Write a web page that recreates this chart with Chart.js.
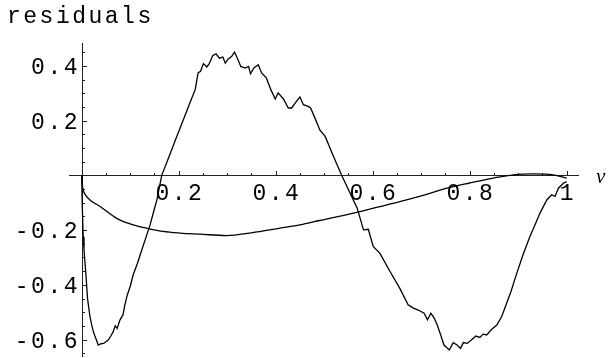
<!DOCTYPE html>
<html>
<head>
<meta charset="utf-8">
<script src="https://cdn.jsdelivr.net/npm/chart.js@4"></script>
<style>
  body { margin: 0; background: #fff; }
  canvas { display: block; }
</style>
</head>
<body>
<canvas id="myChart" width="608" height="358"></canvas>
<script>
let x_ticks = [0.2, 0.4, 0.6, 0.8, 1]
let x_tick_labels = ['0.2', '0.4', '0.6', '0.8', '1']
let y_ticks = [0.4, 0.2, -0.2, -0.4, -0.6]
let y_tick_labels = ['0.4', '0.2', '-0.2', '-0.4', '-0.6']
let y_label = 'residuals'
let x_label = 'ν'

// jagged residual curve
let rough_x = [0, 0.001, 0.003, 0.0047, 0.009, 0.012, 0.017, 0.021, 0.025, 0.030, 0.034, 0.039, 0.045, 0.050, 0.055,
    0.060, 0.065, 0.069, 0.073, 0.079, 0.085, 0.089, 0.094, 0.100, 0.106, 0.115, 0.124, 0.133, 0.141, 0.148, 0.155,
    0.165, 0.180, 0.195, 0.210, 0.223, 0.234, 0.240, 0.245, 0.251, 0.258, 0.263, 0.270, 0.277, 0.284, 0.291, 0.296,
    0.302, 0.309, 0.315, 0.321, 0.328, 0.337, 0.344, 0.348, 0.355, 0.364, 0.371, 0.381, 0.390, 0.399, 0.405, 0.416,
    0.426, 0.433, 0.440, 0.450, 0.457, 0.467, 0.472, 0.481, 0.491, 0.502, 0.519, 0.536, 0.552, 0.568, 0.581, 0.591,
    0.601, 0.615, 0.636, 0.656, 0.673, 0.684, 0.694, 0.706, 0.713, 0.720, 0.726, 0.732, 0.739, 0.747, 0.758, 0.766,
    0.774, 0.781, 0.787, 0.795, 0.804, 0.813, 0.821, 0.828, 0.835, 0.845, 0.856, 0.866, 0.875, 0.885, 0.897, 0.910,
    0.924, 0.935, 0.945, 0.959, 0.969, 0.976, 0.983, 0.993, 1.0]
let rough_y = [0, -0.10, -0.224, -0.272, -0.37, -0.45, -0.516, -0.55, -0.577, -0.60, -0.620, -0.616, -0.614, -0.608, -0.601,
    -0.587, -0.571, -0.550, -0.559, -0.528, -0.510, -0.473, -0.437, -0.406, -0.364, -0.321, -0.272, -0.224, -0.181, -0.135, -0.090,
    0, 0.068, 0.137, 0.205, 0.264, 0.313, 0.374, 0.380, 0.408, 0.396, 0.408, 0.437, 0.444, 0.428, 0.432, 0.410,
    0.425, 0.434, 0.450, 0.428, 0.398, 0.392, 0.398, 0.371, 0.392, 0.404, 0.374, 0.355, 0.313, 0.279, 0.301, 0.279,
    0.246, 0.246, 0.264, 0.286, 0.258, 0.252, 0.246, 0.209, 0.166, 0.142, 0.070, 0, -0.060, -0.120, -0.199, -0.197,
    -0.260, -0.285, -0.352, -0.413, -0.473, -0.485, -0.492, -0.504, -0.528, -0.504, -0.519, -0.541, -0.577, -0.620, -0.638, -0.611,
    -0.620, -0.632, -0.611, -0.614, -0.601, -0.587, -0.592, -0.580, -0.583, -0.563, -0.547, -0.516, -0.473, -0.425, -0.358, -0.290,
    -0.224, -0.180, -0.138, -0.090, -0.071, -0.077, -0.047, -0.029, -0.023]

// smooth residual curve
let smooth_x = [0, 0.001, 0.003, 0.008, 0.017, 0.038, 0.072, 0.106, 0.134, 0.168, 0.203, 0.244, 0.299, 0.35, 0.409,
    0.45, 0.491, 0.56, 0.615, 0.656, 0.7, 0.753, 0.8, 0.849, 0.89, 0.931, 0.972, 1.0]
let smooth_y = [0, -0.03, -0.053, -0.072, -0.09, -0.114, -0.157, -0.181, -0.193, -0.205, -0.211, -0.215, -0.220, -0.210, -0.193,
    -0.181, -0.165, -0.138, -0.114, -0.096, -0.075, -0.047, -0.028, -0.010, 0.002, 0.005, 0.002, -0.010]

let to_points = (xs, ys) => xs.map((v, i) => ({x: v, y: ys[i]}))

let mono = '"Liberation Mono", "DejaVu Sans Mono", monospace'
let spacing = 2.5

// draws the Mathematica-style axes through the origin
const axes_plugin = {
    id: 'originAxes',
    beforeDatasetsDraw: (chart) => {
        const {ctx, chartArea, scales} = chart
        let sx = scales.x, sy = scales.y
        let x0 = Math.round(sx.getPixelForValue(0)) + 0.5
        let y0 = Math.round(sy.getPixelForValue(0)) + 0.5
        ctx.save()
        ctx.strokeStyle = '#222'
        ctx.lineWidth = 1
        ctx.beginPath()
        ctx.moveTo(chartArea.left, y0)
        ctx.lineTo(chartArea.right, y0)
        ctx.moveTo(x0, chartArea.top)
        ctx.lineTo(x0, chartArea.bottom)
        // x ticks every 0.05, longer at 0.2
        for (let i = 1; i <= 20; i++) {
            let v = i * 0.05
            let len = (i % 4 === 0) ? 4.5 : 2.5
            let px = Math.round(sx.getPixelForValue(v)) + 0.5
            ctx.moveTo(px, y0)
            ctx.lineTo(px, y0 - len)
        }
        // y ticks every 0.05
        for (let i = -13; i <= 9; i++) {
            if (i === 0) continue
            let v = i * 0.05
            let len = (i % 4 === 0) ? 4.5 : 2.5
            let py = Math.round(sy.getPixelForValue(v)) + 0.5
            if (py < chartArea.top || py > chartArea.bottom) continue
            ctx.moveTo(x0, py)
            ctx.lineTo(x0 + len, py)
        }
        ctx.stroke()

        ctx.fillStyle = '#000'
        ctx.font = '23px ' + mono
        ctx.letterSpacing = spacing + 'px'
        ctx.textBaseline = 'alphabetic'
        ctx.textAlign = 'left'
        x_ticks.forEach((v, i) => {
            let w = ctx.measureText(x_tick_labels[i]).width - spacing
            ctx.fillText(x_tick_labels[i], sx.getPixelForValue(v) - w / 2, y0 + 24)
        })
        y_ticks.forEach((v, i) => {
            let w = ctx.measureText(y_tick_labels[i]).width - spacing
            ctx.fillText(y_tick_labels[i], x0 - 5 - w, sy.getPixelForValue(v) + 8)
        })
        ctx.fillText(y_label, 7, 23)
        ctx.letterSpacing = '0px'
        ctx.font = 'italic 21px "Liberation Serif", serif'
        ctx.fillText(x_label, 596, y0 + 7)
        ctx.restore()
    }
}

const ctx = document.getElementById('myChart')

new Chart(ctx, {
    type: 'scatter',
    data: {
        datasets: [
            {
                data: to_points(rough_x, rough_y),
                showLine: true,
                borderColor: '#000',
                borderWidth: 1.3,
                pointRadius: 0,
                tension: 0
            },
            {
                data: to_points(smooth_x, smooth_y),
                showLine: true,
                borderColor: '#000',
                borderWidth: 1.3,
                pointRadius: 0,
                cubicInterpolationMode: 'monotone'
            }
        ]
    },
    options: {
        responsive: false,
        animation: false,
        layout: {
            padding: {left: 69, right: 29, top: 43, bottom: 1}
        },
        scales: {
            x: {type: 'linear', min: -0.0262, max: 1.0254, display: false},
            y: {type: 'linear', min: -0.6636, max: 0.4834, display: false}
        },
        plugins: {
            legend: {display: false},
            tooltip: {enabled: false}
        }
    },
    plugins: [axes_plugin]
})
</script>
</body>
</html>
